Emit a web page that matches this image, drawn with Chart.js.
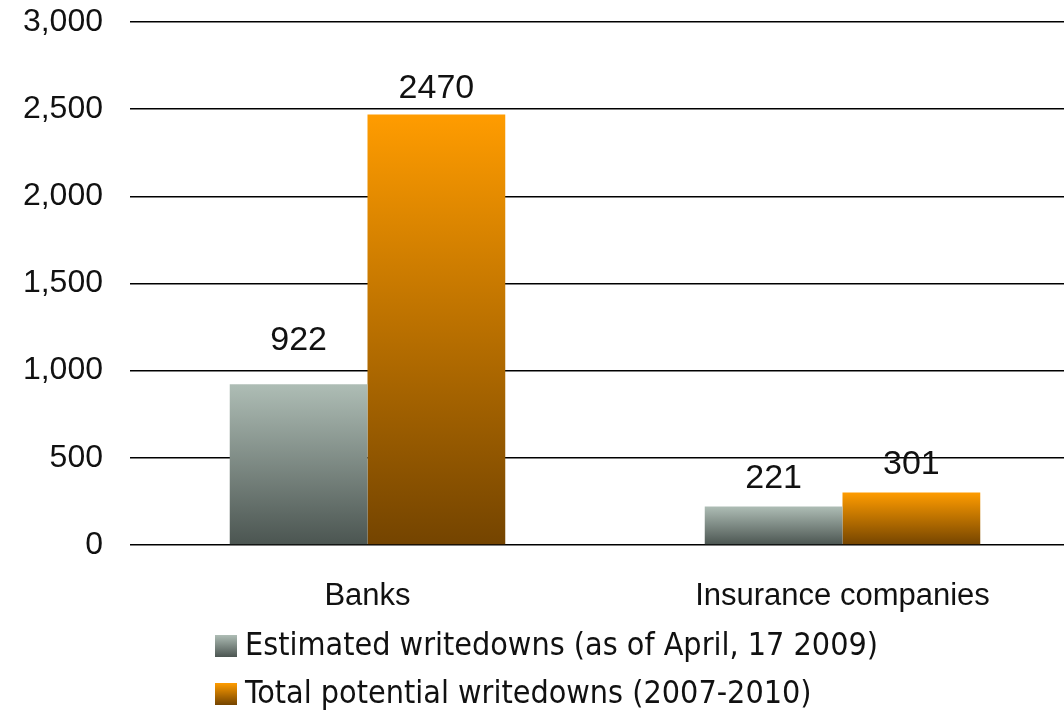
<!DOCTYPE html>
<html>
<head>
<meta charset="utf-8">
<script src="https://cdn.jsdelivr.net/npm/chart.js@4.4.1/dist/chart.umd.min.js"></script>
<style>
  html, body { margin: 0; padding: 0; background: #fff; overflow: hidden; }
  #wrap { width: 1080px; height: 713px; }
</style>
</head>
<body>
<div id="wrap"><canvas id="chart" width="1080" height="713"></canvas></div>
<script>
const categories = ['Banks', 'Insurance companies'];
const seriesNames = ['Estimated writedowns (as of April, 17 2009)', 'Total potential writedowns (2007-2010)'];
const estimated = [922, 221];
const totalPotential = [2470, 301];
const yTicks = [0, 500, 1000, 1500, 2000, 2500, 3000];

const gradStops = [
  ['#aebdb5', '#4b5551'],
  ['#ff9c00', '#744400']
];

// vertical gradient spanning a single bar, from its top down to the zero line
function barFill(ctx, which) {
  const chart = ctx.chart;
  if (!chart.chartArea || ctx.raw == null) return gradStops[which][0];
  const y = chart.scales.y;
  const top = y.getPixelForValue(ctx.raw);
  const bottom = y.getPixelForValue(0);
  const g = chart.ctx.createLinearGradient(0, top, 0, bottom);
  g.addColorStop(0, gradStops[which][0]);
  g.addColorStop(1, gradStops[which][1]);
  return g;
}

// numbers above each bar
const valueLabels = {
  id: 'valueLabels',
  afterDatasetsDraw(chart, args, opts) {
    const c = chart.ctx;
    c.save();
    c.font = '34px "Liberation Sans", Arial, sans-serif';
    c.fillStyle = '#111';
    c.textAlign = 'center';
    c.textBaseline = 'middle';
    chart.data.datasets.forEach((ds, i) => {
      chart.getDatasetMeta(i).data.forEach((bar, j) => {
        const gap = opts.gaps[i][j];
        c.fillText(String(ds.data[j]), bar.x, bar.y - gap);
      });
    });
    c.restore();
  }
};

// stacked legend under the category labels
const stackLegend = {
  id: 'stackLegend',
  afterDraw(chart, args, opts) {
    const c = chart.ctx;
    c.save();
    c.font = opts.font;
    c.textBaseline = 'middle';
    c.textAlign = 'left';
    chart.data.datasets.forEach((ds, i) => {
      const y = opts.top + i * opts.rowGap;
      const s = opts.box;
      const g = c.createLinearGradient(0, y - s / 2, 0, y + s / 2);
      g.addColorStop(0, gradStops[i][0]);
      g.addColorStop(1, gradStops[i][1]);
      c.fillStyle = g;
      c.fillRect(opts.left, y - s / 2, s, s);
      c.fillStyle = '#111';
      c.fillText(ds.label, opts.left + s + 8, y + 1);
    });
    c.restore();
  }
};

new Chart(document.getElementById('chart'), {
  type: 'bar',
  data: {
    labels: categories,
    datasets: [
      { label: seriesNames[0], data: estimated, backgroundColor: (ctx) => barFill(ctx, 0) },
      { label: seriesNames[1], data: totalPotential, backgroundColor: (ctx) => barFill(ctx, 1) }
    ]
  },
  options: {
    responsive: false,
    animation: false,
    layout: { padding: { top: 22, right: 0, left: 0, bottom: 0 } },
    datasets: { bar: { categoryPercentage: 0.58, barPercentage: 1 } },
    plugins: {
      legend: { display: false },
      tooltip: { enabled: false },
      valueLabels: { gaps: [[44, 28], [26, 28]] },
      stackLegend: {
        left: 215, top: 646, rowGap: 48, box: 22,
        font: '32px "Liberation Sans Narrow", "DejaVu Sans Condensed", sans-serif'
      }
    },
    scales: {
      x: {
        grid: { display: false, drawTicks: false },
        border: { display: false },
        ticks: {
          padding: 33,
          color: '#111',
          font: { family: '"Liberation Sans", Arial, sans-serif', size: 31 }
        },
        afterFit(axis) { axis.height = 168; }
      },
      y: {
        min: 0,
        max: 3000,
        afterBuildTicks(axis) { axis.ticks = yTicks.map(v => ({ value: v })); },
        grid: { color: '#000', lineWidth: 1.5, drawTicks: false },
        border: { display: false },
        ticks: {
          padding: 27,
          color: '#111',
          font: { family: '"Liberation Sans", Arial, sans-serif', size: 32 },
          callback: (v) => v.toLocaleString('en-US')
        },
        afterFit(axis) {
          axis.width = 130;
          axis.paddingTop = 0;
          axis.paddingBottom = 0;
        }
      }
    }
  },
  plugins: [valueLabels, stackLegend]
});
</script>
</body>
</html>
